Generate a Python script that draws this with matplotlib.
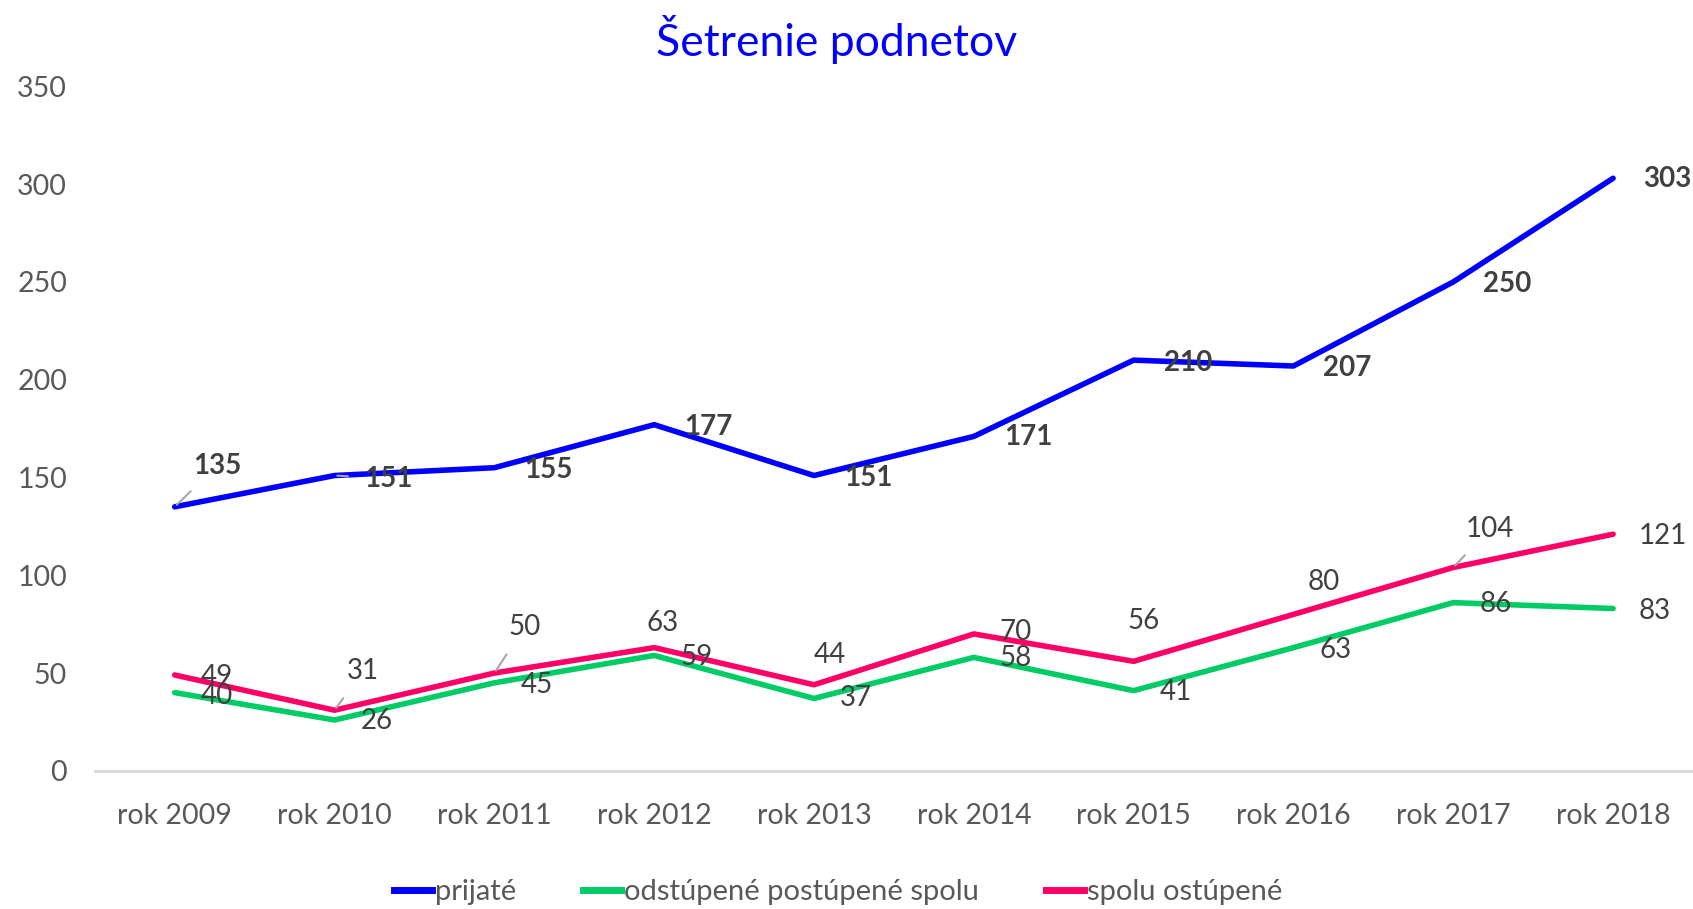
import matplotlib
matplotlib.use("Agg")
import matplotlib.pyplot as plt

plt.rcParams['font.family'] = ['Lato', 'DejaVu Sans']

years = ['rok 2009', 'rok 2010', 'rok 2011', 'rok 2012', 'rok 2013',
         'rok 2014', 'rok 2015', 'rok 2016', 'rok 2017', 'rok 2018']
prijate = [135, 151, 155, 177, 151, 171, 210, 207, 250, 303]
odstupene_postupene = [40, 26, 45, 59, 37, 58, 41, 63, 86, 83]
spolu_ostupene = [49, 31, 50, 63, 44, 70, 56, 80, 104, 121]

BLUE = '#0000FF'
GREEN = '#00CC66'
PINK = '#FF0066'
LABEL_C = '#404040'
TICK_C = '#595959'

# label offsets in pixels (dx, dy), and whether a leader line is drawn
blue_off = [(18, 41), (30, -3), (30, -2), (30, -2), (30, -2),
            (30, -1), (30, -3), (30, -2), (30, -2), (30, -1)]
blue_lead = [True, True, False, False, False, False, False, False, False, False]
green_off = [(26, -3), (26, -1), (26, -2), (26, -2), (26, 0),
             (26, -1), (26, -1), (26, -2), (26, -1), (26, -2)]
pink_off = [(26, -2), (12, 39), (14, 46), (-8, 25), (0, 30),
            (26, 2), (-6, 40), (14, 32), (12, 38), (26, -2)]
pink_lead = [False, True, True, False, False, False, False, False, True, False]

fig = plt.figure(figsize=(16.93, 9.09), dpi=100)
ax = fig.add_axes([0.056, 0.152, 0.944, 0.753])

x = list(range(len(years)))
ax.plot(x, prijate, color=BLUE, lw=4, solid_joinstyle='round', solid_capstyle='round', zorder=3)
ax.plot(x, odstupene_postupene, color=GREEN, lw=4, solid_joinstyle='round', solid_capstyle='round', zorder=3)
ax.plot(x, spolu_ostupene, color=PINK, lw=4, solid_joinstyle='round', solid_capstyle='round', zorder=3)


def add_labels(vals, offs, leads, bold):
    for i, v in enumerate(vals):
        dx, dy = offs[i]
        lead = leads[i] if leads else False
        ax.annotate(str(v), xy=(i, v), xytext=(dx, dy), textcoords='offset pixels',
                    ha='left', va='center', fontsize=20, color=LABEL_C,
                    fontweight='bold' if bold else 'normal', zorder=4,
                    arrowprops=dict(arrowstyle='-', color='#A6A6A6', lw=1.5,
                                    shrinkA=10, shrinkB=2) if lead else None)


add_labels(prijate, blue_off, blue_lead, True)
add_labels(odstupene_postupene, green_off, None, False)
add_labels(spolu_ostupene, pink_off, pink_lead, False)

ax.set_xlim(-0.5, 9.5)
ax.set_ylim(0, 350)
ax.set_yticks(range(0, 351, 50))
ax.set_xticks(x)
ax.set_xticklabels(years)
ax.tick_params(axis='both', length=0, labelsize=20.5, labelcolor=TICK_C)
ax.tick_params(axis='x', pad=23)
ax.tick_params(axis='y', pad=20)
for s in ['top', 'right', 'left']:
    ax.spines[s].set_visible(False)
ax.spines['bottom'].set_color('#D9D9D9')
ax.spines['bottom'].set_linewidth(2)

fig.text(0.494, 0.956, 'Šetrenie podnetov', ha='center', va='center',
         fontsize=32, color=BLUE)

handles = [plt.Line2D([], [], color=c, lw=5) for c in (BLUE, GREEN, PINK)]
leg = fig.legend(handles, ['prijaté', 'odstúpené postúpené spolu', 'spolu ostúpené'],
                 loc='center', bbox_to_anchor=(0.495, 0.019), ncol=3, frameon=False,
                 fontsize=21, handlelength=1.3, handletextpad=0.1, columnspacing=2.3)
for t in leg.get_texts():
    t.set_color(TICK_C)

fig.savefig('out.png', dpi=100)
